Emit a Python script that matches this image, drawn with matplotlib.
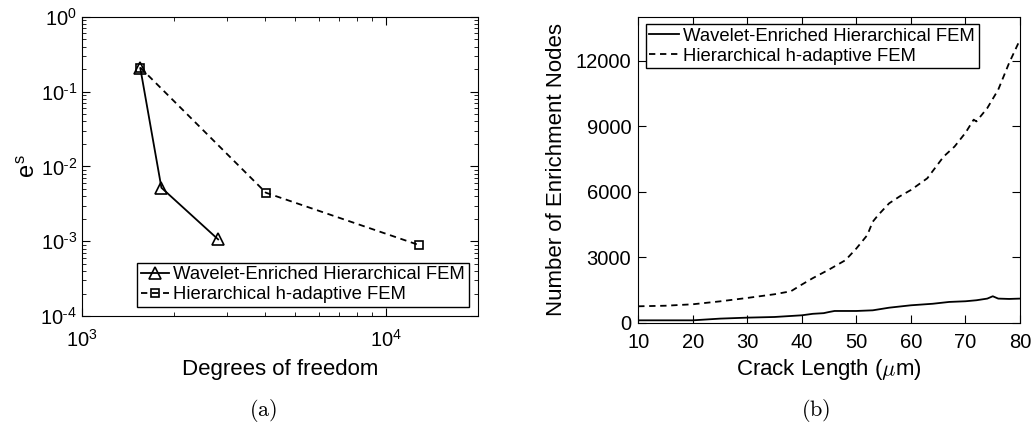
import numpy as np
import matplotlib.pyplot as plt

plt.rcParams['font.family'] = ['Liberation Sans', 'DejaVu Sans']
plt.rcParams['mathtext.fontset'] = 'cm'

# (a) convergence data
dof_wavelet = [1554, 1823, 2800]
err_wavelet = [0.206, 0.0052, 0.00106]
dof_hadapt = [1554, 4018, 12800]
err_hadapt = [0.21, 0.00446, 0.00089]
x_exps = [3, 4]
y_exps = [-4, -3, -2, -1, 0]

# (b) enrichment nodes vs crack length
crack_h = [10, 15, 20, 25, 30, 35, 38, 40, 42, 45, 48, 50, 52, 53, 54, 56, 58,
           60, 63, 66, 68, 70, 71.5, 72, 74, 76, 78, 80]
nodes_h = [764, 790, 856, 990, 1146, 1315, 1452, 1758, 2050, 2446, 2874, 3409,
           4020, 4632, 4938, 5473, 5800, 6084, 6619, 7613, 8071, 8700, 9300, 9218,
           9830, 10670, 11893, 12963]
crack_w = [10, 15, 20, 25, 30, 35, 40, 42, 44, 45, 46, 48, 50, 53, 56, 60, 64,
           67, 70, 72, 74, 75, 76, 78, 80]
nodes_w = [122, 122, 122, 200, 245, 275, 352, 420, 450, 504, 550, 550, 550,
           580, 700, 810, 880, 963, 994, 1040, 1116, 1223, 1116, 1100, 1116]


def exp_label(e):
    # MATLAB style: short hyphen in the exponent
    s = str(e).replace('-', r'\text{-}')
    return r'$\mathregular{10^{' + s + '}}$'


fig = plt.figure(figsize=(10.36, 4.22), dpi=100)

# %% panel (a)
ax1 = fig.add_axes([0.0792, 0.251, 0.3822, 0.709])
ax1.loglog(dof_wavelet, err_wavelet, 'k-^', mfc='none', ms=8, mew=1.2, lw=1.3,
           label='Wavelet-Enriched Hierarchical FEM')
ax1.loglog(dof_hadapt, err_hadapt, 'k--s', mfc='none', ms=6, mew=1.2, lw=1.3,
           dashes=(3.5, 2.6), label='Hierarchical h-adaptive FEM')
ax1.set_xlim(1e3, 2e4)
ax1.set_ylim(1e-4, 1)
ax1.set_xticks([10.0 ** e for e in x_exps], [exp_label(e) for e in x_exps])
ax1.set_yticks([10.0 ** e for e in y_exps], [exp_label(e) for e in y_exps])
ax1.tick_params(which='both', direction='in', top=True, right=True, labelsize=14.5)
ax1.tick_params(axis='x', pad=9)
ax1.tick_params(which='major', length=6)
ax1.tick_params(which='minor', length=3)
ax1.set_xlabel('Degrees of freedom', fontsize=16, labelpad=6)
ax1.set_ylabel(r'e$^\mathregular{s}$', fontsize=17, labelpad=0)
leg1 = ax1.legend(loc='lower right', fontsize=13.3, fancybox=False, framealpha=1,
                  edgecolor='k', borderpad=0.2, handlelength=1.5, handletextpad=0.25,
                  labelspacing=0.15, borderaxespad=0.5)
leg1.get_frame().set_linewidth(1.0)

# %% panel (b)
ax2 = fig.add_axes([0.616, 0.2346, 0.3686, 0.7254])
ax2.plot(crack_w, nodes_w, 'k-', lw=1.3, label='Wavelet-Enriched Hierarchical FEM')
ax2.plot(crack_h, nodes_h, 'k--', lw=1.3, dashes=(3.5, 2.6),
         label='Hierarchical h-adaptive FEM')
ax2.set_xlim(10, 80)
ax2.set_ylim(0, 14000)
ax2.set_xticks(np.arange(10, 81, 10))
ax2.set_yticks([0, 3000, 6000, 9000, 12000])
ax2.tick_params(direction='in', top=True, right=True, labelsize=14.5, length=6)
ax2.tick_params(axis='x', pad=7)
ax2.tick_params(axis='y', pad=5)
ax2.set_xlabel(r'Crack Length ($\mu$m)', fontsize=16, labelpad=4)
ax2.set_ylabel('Number of Enrichment Nodes', fontsize=16, labelpad=6)
leg2 = ax2.legend(loc='upper left', fontsize=13.3, fancybox=False, framealpha=1,
                  edgecolor='k', borderpad=0.2, handlelength=1.6, handletextpad=0.25,
                  labelspacing=0.15, borderaxespad=0.4)
leg2.get_frame().set_linewidth(1.0)

fig.text(0.254, 0.015, r'$\mathrm{(a)}$', fontsize=16, ha='center')
fig.text(0.787, 0.015, r'$\mathrm{(b)}$', fontsize=16, ha='center')

fig.savefig('out.png', dpi=100)
